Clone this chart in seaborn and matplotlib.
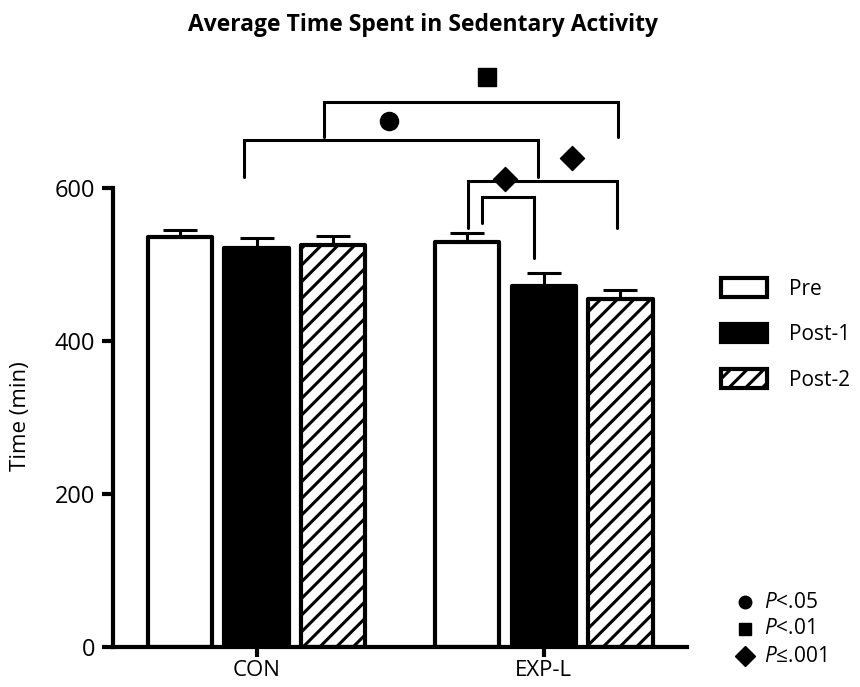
import pandas as pd
import matplotlib
matplotlib.use('Agg')
import matplotlib.pyplot as plt
import seaborn as sns
from matplotlib.patches import Patch

groups = ['CON', 'EXP-L']
phases = ['Pre', 'Post-1', 'Post-2']
con_means = [536, 522, 526]
expl_means = [530, 472, 455]
con_sem = [9, 13, 11]
expl_sem = [11, 17, 12]

# significance brackets: (x_left, x_right, y_line, left leg bottom, right leg bottom)
brackets = [
    (0.233, 1.258, 712, 667, 667),
    (-0.045, 0.979, 663, 614, 614),
    (0.735, 1.254, 609, 548, 548),
    (0.784, 0.965, 588, 554, 508),
]
# markers over brackets: (x, y, marker, size)
sig_marks = [
    (0.801, 745, 's', 150),
    (0.460, 688, 'o', 170),
    (1.098, 639, 'D', 150),
    (0.864, 612, 'D', 150),
]
p_labels = ['$P$<.05', '$P$<.01', '$P$≤.001']
p_markers = ['o', 's', 'D']

sns.set_style('ticks')
plt.rcParams['font.family'] = ['Open Sans', 'DejaVu Sans']
plt.rcParams['mathtext.fontset'] = 'custom'
plt.rcParams['mathtext.rm'] = 'Open Sans'
plt.rcParams['mathtext.it'] = 'Open Sans:italic'
plt.rcParams['hatch.linewidth'] = 2.2
plt.rcParams['hatch.color'] = 'black'
plt.rcParams['text.color'] = 'black'
plt.rcParams['axes.labelcolor'] = 'black'
plt.rcParams['xtick.color'] = 'black'
plt.rcParams['ytick.color'] = 'black'
plt.rcParams['axes.edgecolor'] = 'black'

df = pd.DataFrame({
    'group': [g for g in groups for _ in phases],
    'phase': phases * len(groups),
    'time': con_means + expl_means,
    'sem': con_sem + expl_sem,
})

fig = plt.figure(figsize=(8.6, 6.87), dpi=100)
ax = fig.add_axes([0.1314, 0.0582, 0.668, 0.9131])

sns.barplot(data=df, x='group', y='time', hue='phase', order=groups, hue_order=phases,
            palette=['white', 'black', 'white'], edgecolor='black', linewidth=3,
            gap=0.16, errorbar=None, legend=False, ax=ax)

bars = list(ax.patches)
for i, p in enumerate(bars):
    p.set_joinstyle('round')
    if i >= 2 * len(groups):
        p.set_hatch('//')

# error bars (upper only) taken from the drawn bars
for p in bars:
    cx = p.get_x() + p.get_width() / 2
    h = p.get_height()
    err = df.loc[df['time'] == h, 'sem'].iloc[0]
    ax.errorbar(cx, h, yerr=[[0], [err]], fmt='none', ecolor='black',
                elinewidth=2.2, capsize=12, capthick=2.2, zorder=1)

for x1, x2, y, b1, b2 in brackets:
    ax.plot([x1, x1, x2, x2], [b1, y, y, b2], color='black', lw=2.2,
            solid_joinstyle='miter', clip_on=False)
for x, y, m, s in sig_marks:
    ax.scatter([x], [y], marker=m, s=s, color='black', zorder=5, clip_on=False)

ax.set_xlim(-0.5, 1.5)
ax.set_ylim(0, 820)
ax.set_yticks([0, 200, 400, 600])
ax.spines['left'].set_bounds(0, 600)
ax.spines['top'].set_visible(False)
ax.spines['right'].set_visible(False)
ax.spines['left'].set_linewidth(3)
ax.spines['bottom'].set_linewidth(3)
ax.tick_params(axis='y', width=3, length=8, labelsize=17, pad=5)
ax.tick_params(axis='x', width=3, length=7, labelsize=16, pad=2)
ax.set_xlabel('')
ax.set_ylabel('Time (min)', fontsize=16)
ax.yaxis.set_label_coords(-0.143, 0.368)

fig.text(0.492, 0.963, 'Average Time Spent in Sedentary Activity',
         ha='center', va='center', fontsize=16.5, fontweight='bold')

handles = [
    Patch(facecolor='white', edgecolor='black', linewidth=3),
    Patch(facecolor='black', edgecolor='black', linewidth=3),
    Patch(facecolor='white', edgecolor='black', linewidth=3, hatch='//'),
]
fig.legend(handles, phases, loc='upper left', bbox_to_anchor=(0.838, 0.595),
           frameon=False, fontsize=15, handlelength=2.2, handleheight=1.0,
           handletextpad=1.1, labelspacing=1.15, borderpad=0, borderaxespad=0)

for i, (lab, m) in enumerate(zip(p_labels, p_markers)):
    yy = 1 - (602 + i * 27) / 687
    fig.add_artist(plt.Line2D([745 / 860], [yy], marker=m, color='black',
                              markersize=9 if m != 'D' else 10, linestyle='none',
                              transform=fig.transFigure))
    fig.text(764 / 860, yy, lab, ha='left', va='center', fontsize=15)

fig.savefig('out.png', dpi=100)
